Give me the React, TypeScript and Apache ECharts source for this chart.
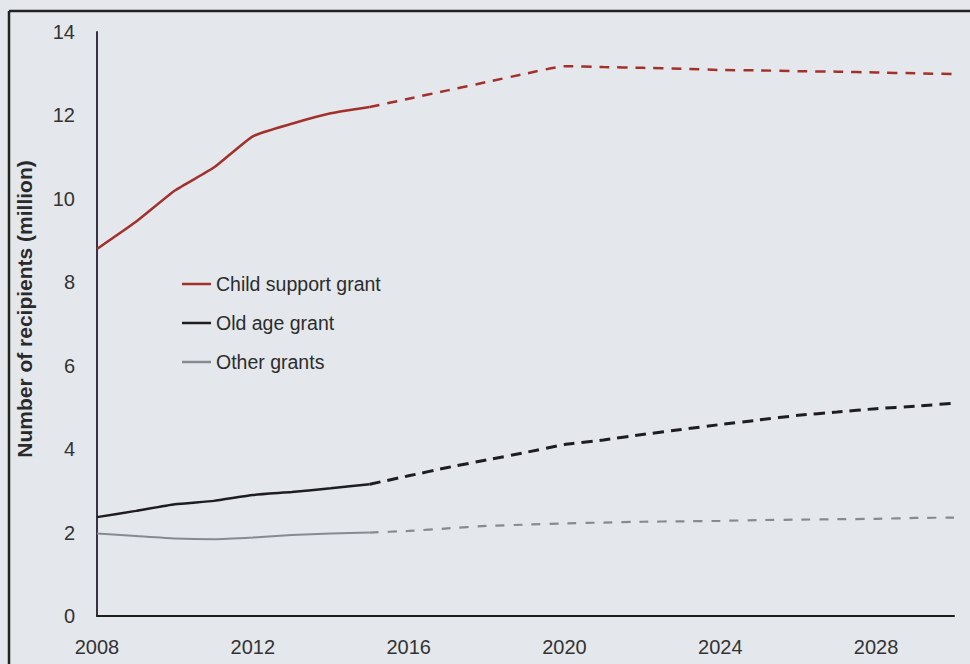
import React, { useEffect, useRef } from "react";
import * as echarts from "echarts";

const years = [
  "2008", "2009", "2010", "2011", "2012", "2013", "2014", "2015", "2016", "2017", "2018", "2019",
  "2020", "2021", "2022", "2023", "2024", "2025", "2026", "2027", "2028", "2029", "2030",
];
// Observed 2008–2015
const childActual = [8.8, 9.45, 10.2, 10.75, 11.5, 11.8, 12.05, 12.2];
const oldActual = [2.37, 2.52, 2.68, 2.76, 2.9, 2.97, 3.06, 3.16];
const otherActual = [1.98, 1.92, 1.86, 1.84, 1.88, 1.94, 1.98, 2.0];
// Projections 2015–2030
const childProj = [12.2, 12.4, 12.6, 12.8, 13.0, 13.18, 13.16, 13.14, 13.12, 13.09, 13.08, 13.06, 13.05, 13.03, 13.01, 12.99];
const oldProj = [3.16, 3.36, 3.56, 3.74, 3.92, 4.11, 4.22, 4.35, 4.47, 4.59, 4.7, 4.81, 4.89, 4.97, 5.03, 5.1];
const otherProj = [2.0, 2.04, 2.1, 2.16, 2.19, 2.22, 2.24, 2.26, 2.27, 2.28, 2.3, 2.31, 2.32, 2.33, 2.35, 2.36];
const yTicks = { min: 0, max: 14, interval: 2 };
const names = ["Child support grant", "Old age grant", "Other grants"];
const yTitle = "Number of recipients (million)";

const FONT = "'Liberation Sans', Arial, sans-serif";

const padActual = (arr: number[]) => years.map((_, i) => (i < arr.length ? arr[i] : null));
const padProj = (arr: number[]) => {
  const start = years.length - arr.length;
  return years.map((_, i) => (i >= start ? arr[i - start] : null));
};

export default function App() {
  const ref = useRef<HTMLDivElement>(null);
  useEffect(() => {
    const chart = echarts.init(ref.current!, null, { renderer: "svg" });
    const red = "#a2302b";
    const black = "#1f1d22";
    const grey = "#858a93";
    chart.setOption({
      animation: false,
      backgroundColor: "#e4e8ec",
      textStyle: { fontFamily: FONT },
      grid: { left: 97, top: 32, right: 16, bottom: 48, containLabel: false },
      legend: {
        orient: "vertical",
        left: 182,
        top: 274,
        padding: 0,
        icon: "rect",
        itemWidth: 29,
        itemHeight: 2.5,
        itemGap: 19,
        data: names,
        textStyle: { fontFamily: FONT, fontSize: 19.5, color: "#2c2c2c", lineHeight: 20 },
      },
      xAxis: {
        type: "category",
        data: years,
        boundaryGap: false,
        axisLine: { lineStyle: { color: "#1e1e1e", width: 2 } },
        axisTick: { show: false },
        axisLabel: { interval: 3, fontSize: 20, color: "#333", margin: 21, fontFamily: FONT },
        splitLine: { show: false },
      },
      yAxis: {
        type: "value",
        min: yTicks.min,
        max: yTicks.max,
        interval: yTicks.interval,
        axisLine: { show: true, lineStyle: { color: "#3a3140", width: 2 } },
        axisTick: { show: false },
        axisLabel: { fontSize: 20, color: "#333", margin: 22, fontFamily: FONT },
        splitLine: { show: false },
      },
      graphic: [
        { type: "line", shape: { x1: 9, y1: 11, x2: 970, y2: 11 }, style: { stroke: "#222", lineWidth: 2.5 } },
        { type: "line", shape: { x1: 9, y1: 11, x2: 9, y2: 664 }, style: { stroke: "#222", lineWidth: 2.5 } },
        {
          type: "text",
          x: 24,
          y: 309,
          rotation: Math.PI / 2,
          style: {
            text: yTitle,
            fontFamily: FONT,
            fontSize: 21,
            fontWeight: "bold",
            fill: "#2a2a2a",
            textAlign: "center",
            textVerticalAlign: "middle",
          },
        },
      ],
      series: [
        { name: names[0], type: "line", data: padActual(childActual), showSymbol: false, lineStyle: { color: red, width: 2.5 }, itemStyle: { color: red }, smooth: 0.15 },
        { name: names[1], type: "line", data: padActual(oldActual), showSymbol: false, lineStyle: { color: black, width: 2.5 }, itemStyle: { color: black }, smooth: 0.15 },
        { name: names[2], type: "line", data: padActual(otherActual), showSymbol: false, lineStyle: { color: grey, width: 2 }, itemStyle: { color: grey }, smooth: 0.15 },
        { name: names[0] + " (projection)", type: "line", data: padProj(childProj), showSymbol: false, lineStyle: { color: red, width: 2.5, type: [10, 8] }, itemStyle: { color: red }, smooth: 0.15 },
        { name: names[1] + " (projection)", type: "line", data: padProj(oldProj), showSymbol: false, lineStyle: { color: black, width: 3, type: [11, 7] }, itemStyle: { color: black }, smooth: 0.15 },
        { name: names[2] + " (projection)", type: "line", data: padProj(otherProj), showSymbol: false, lineStyle: { color: grey, width: 2.2, type: [9, 9] }, itemStyle: { color: grey }, smooth: 0.15 },
      ],
    });
    return () => chart.dispose();
  }, []);
  return (
    <div style={{ position: "fixed", left: 0, top: 0, width: 970, height: 664 }}>
      <div ref={ref} style={{ width: 970, height: 664 }} />
    </div>
  );
}
